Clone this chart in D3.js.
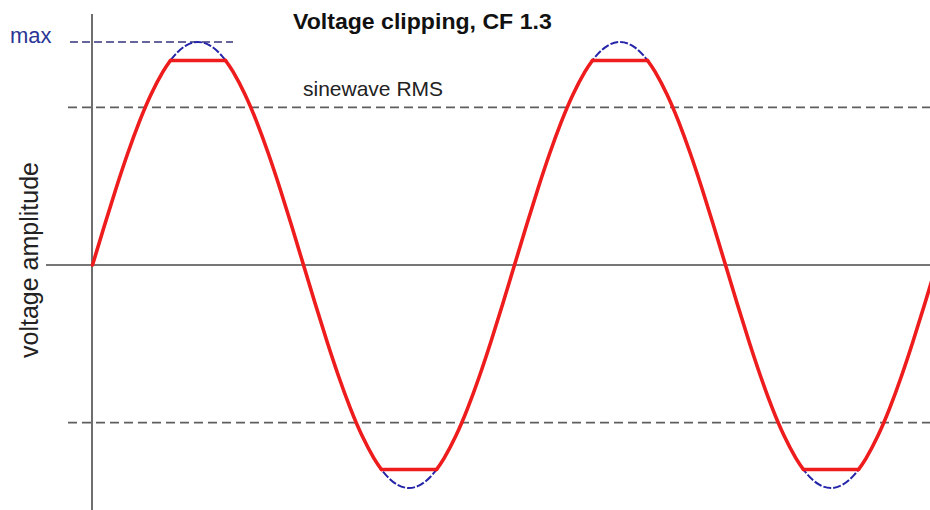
<!DOCTYPE html>
<html><head><meta charset="utf-8">
<script src="https://cdn.jsdelivr.net/npm/d3@7"></script>
<style>html,body{margin:0;padding:0;background:#fff;}svg{display:block;}</style>
</head><body>
<svg id="c" width="930" height="510"></svg>
<script>
// Phase angle (degrees) of the samples
const phaseDeg = [0,10,20,30,40,50,60,70,80,90,100,110,120,130,140,150,160,170,180,
  190,200,210,220,230,240,250,260,270,280,290,300,310,320,330,340,350,360,
  370,380,390,400,410,420,430,440,450,460,470,480,490,500,510,520,530,540,
  550,560,570,580,590,600,610,620,630,640,650,660,670,680,690,700,710,720];
// Unclipped sinewave amplitude (normalised to max = 1)
const sineValues = [0,0.174,0.342,0.5,0.643,0.766,0.866,0.940,0.985,1,0.985,0.940,0.866,0.766,0.643,0.5,0.342,0.174,0,
  -0.174,-0.342,-0.5,-0.643,-0.766,-0.866,-0.940,-0.985,-1,-0.985,-0.940,-0.866,-0.766,-0.643,-0.5,-0.342,-0.174,0,
  0.174,0.342,0.5,0.643,0.766,0.866,0.940,0.985,1,0.985,0.940,0.866,0.766,0.643,0.5,0.342,0.174,0,
  -0.174,-0.342,-0.5,-0.643,-0.766,-0.866,-0.940,-0.985,-1,-0.985,-0.940,-0.866,-0.766,-0.643,-0.5,-0.342,-0.174,0];
// Clipped waveform (phase, amplitude)
const clippedDeg = [0,10,20,30,40,50,60,66.5,113.5,120,130,140,150,160,170,180,
  190,200,210,220,230,240,246.5,293.5,300,310,320,330,340,350,360,
  370,380,390,400,410,420,426.5,473.5,480,490,500,510,520,530,540,
  550,560,570,580,590,600,606.5,653.5,660,670,680,690,700,710,720];
const clippedValues = [0,0.174,0.342,0.5,0.643,0.766,0.866,0.917,0.917,0.866,0.766,0.643,0.5,0.342,0.174,0,
  -0.174,-0.342,-0.5,-0.643,-0.766,-0.866,-0.917,-0.917,-0.866,-0.766,-0.643,-0.5,-0.342,-0.174,0,
  0.174,0.342,0.5,0.643,0.766,0.866,0.917,0.917,0.866,0.766,0.643,0.5,0.342,0.174,0,
  -0.174,-0.342,-0.5,-0.643,-0.766,-0.866,-0.917,-0.917,-0.866,-0.766,-0.643,-0.5,-0.342,-0.174,0];
const rmsLevel = 0.707;
const maxLevel = 1;
const titleText = "Voltage clipping, CF 1.3";
const yLabel = "voltage amplitude";
const rmsLabel = "sinewave RMS";
const maxLabel = "max";

const svg = d3.select("#c");
const x = d3.scaleLinear().domain([0,720]).range([92.5,936.5]);
const y = d3.scaleLinear().domain([-1,1]).range([488,42]);

svg.append("defs").append("clipPath").attr("id","clip")
  .append("rect").attr("x",0).attr("y",0).attr("width",930).attr("height",510);
const g = svg.append("g").attr("clip-path","url(#clip)");

// RMS dashed lines
[rmsLevel,-rmsLevel].forEach(v=>{
  g.append("line").attr("x1",68).attr("x2",930).attr("y1",y(v)).attr("y2",y(v))
    .attr("stroke","#5e5e5e").attr("stroke-width",1.7).attr("stroke-dasharray","9,5");
});
// max dashed line
g.append("line").attr("x1",70).attr("x2",233).attr("y1",y(maxLevel)).attr("y2",y(maxLevel))
  .attr("stroke","#34347e").attr("stroke-width",1.3).attr("stroke-dasharray","8,4");

// axes
g.append("line").attr("x1",x(0)-0.5).attr("x2",x(0)-0.5).attr("y1",14).attr("y2",510)
  .attr("stroke","#4a4a4a").attr("stroke-width",1.6);
g.append("line").attr("x1",46).attr("x2",930).attr("y1",y(0)).attr("y2",y(0))
  .attr("stroke","#4a4a4a").attr("stroke-width",1.6);

// unclipped sine (blue dashed)
const sinePts = phaseDeg.map((d,i)=>[d,sineValues[i]]);
g.append("path").datum(sinePts)
  .attr("d", d3.line().x(d=>x(d[0])).y(d=>y(d[1])).curve(d3.curveNatural))
  .attr("fill","none").attr("stroke","#2424a8").attr("stroke-width",2).attr("stroke-dasharray","8,2");

// clipped wave (red): split into smooth runs between the flat clipped sections
const clipPts = clippedDeg.map((d,i)=>[d,clippedValues[i]]);
const runs = [];
let cur = [clipPts[0]];
for (let i=1;i<clipPts.length;i++){
  const p = clipPts[i], q = clipPts[i-1];
  if (p[1]===q[1] && p[1]!==0){ // flat clipped segment
    runs.push({pts:cur, curve:d3.curveNatural});
    runs.push({pts:[q,p], curve:d3.curveLinear});
    cur=[p];
  } else cur.push(p);
}
runs.push({pts:cur, curve:d3.curveNatural});
g.selectAll("path.red").data(runs).join("path").attr("class","red")
  .attr("d", r=>d3.line().x(d=>x(d[0])).y(d=>y(d[1])).curve(r.curve)(r.pts))
  .attr("fill","none").attr("stroke","#ee1c1c").attr("stroke-width",3.6)
  .attr("stroke-linejoin","round").attr("stroke-linecap","round");

// texts
svg.append("text").attr("transform","translate(293,29) scale(1.05,1)")
  .attr("font-family","Liberation Sans, Arial, sans-serif").attr("font-weight","bold")
  .attr("font-size",22).attr("fill","#111").text(titleText);
svg.append("text").attr("x",303).attr("y",96)
  .attr("font-family","Liberation Sans, Arial, sans-serif")
  .attr("font-size",21).attr("fill","#222").text(rmsLabel);
svg.append("text").attr("x",10).attr("y",43)
  .attr("font-family","Liberation Sans, Arial, sans-serif")
  .attr("font-size",22).attr("fill","#2a3596").text(maxLabel);
svg.append("text").attr("transform","translate(38,260) rotate(-90)")
  .attr("text-anchor","middle")
  .attr("font-family","Liberation Sans, Arial, sans-serif")
  .attr("font-size",25).attr("fill","#222").text(yLabel);
</script>
</body></html>
